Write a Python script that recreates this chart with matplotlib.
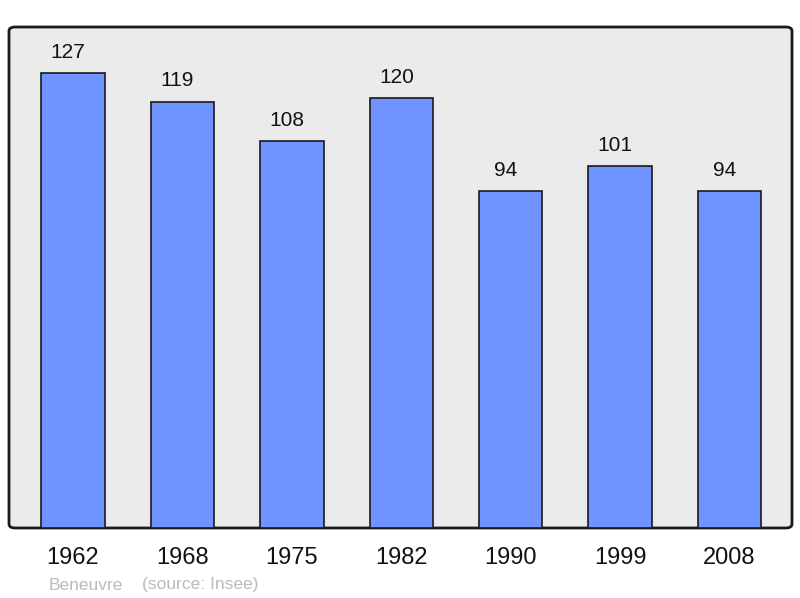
import matplotlib.pyplot as plt
from matplotlib.patches import FancyBboxPatch

years = ['1962', '1968', '1975', '1982', '1990', '1999', '2008']
population = [127, 119, 108, 120, 94, 101, 94]
commune = 'Beneuvre'
source = '(source: Insee)'

plt.rcParams['font.family'] = ['Liberation Sans', 'DejaVu Sans']

fig = plt.figure(figsize=(8, 5.98), dpi=100)
ax = fig.add_axes([9 / 800, 70 / 598, 783 / 800, 501 / 598])
ax.patch.set_visible(False)
for s in ax.spines.values():
    s.set_visible(False)

# rounded grey background panel
bg = FancyBboxPatch((0, 0), 1, 1, boxstyle='round,pad=0,rounding_size=0.008',
                    transform=ax.transAxes, facecolor='#ebebeb',
                    edgecolor='#1a1a1a', linewidth=2, zorder=0, clip_on=False)
ax.add_patch(bg)

x = range(len(years))
ax.bar(x, population, width=0.58, color='#7094ff', edgecolor='#1a1a1a',
       linewidth=1.2, zorder=2)
for i, v in zip(x, population):
    ax.annotate(str(v), (i, v), xytext=(-3.6, 8), textcoords='offset points',
                ha='center', va='bottom', fontsize=15, color='#111111')

ax.set_xlim(-0.585, 6.57)
ax.set_ylim(0, 139.8)
ax.set_yticks([])
ax.set_xticks(list(x))
ax.set_xticklabels(years, fontsize=17, color='#111111')
ax.tick_params(axis='x', length=0, pad=14)

fig.text(49 / 800, 1 - 585 / 598, commune, fontsize=12.5, color='#bbbbbb',
         va='center', ha='left')
fig.text(142 / 800, 1 - 585 / 598, source, fontsize=12.5, color='#bbbbbb',
         va='center', ha='left')

fig.savefig('out.png', dpi=100)
